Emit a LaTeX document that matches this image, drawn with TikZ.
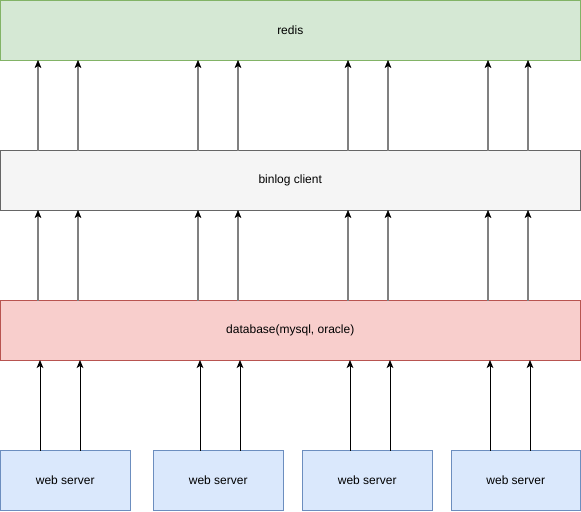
\documentclass[tikz,border=0pt]{standalone}
\usepackage{fontspec}
\setmainfont{Liberation Sans}
\usetikzlibrary{arrows.meta}
\definecolor{rfill}{HTML}{D5E8D4}\definecolor{rdraw}{HTML}{82B366}
\definecolor{bfill}{HTML}{F5F5F5}\definecolor{bdraw}{HTML}{666666}
\definecolor{dfill}{HTML}{F8CECC}\definecolor{ddraw}{HTML}{B85450}
\definecolor{wfill}{HTML}{DAE8FC}\definecolor{wdraw}{HTML}{6C8EBF}
\definecolor{agray}{HTML}{808080}
\begin{document}
\begin{tikzpicture}[x=0.75pt,y=-0.75pt,
  box/.style={rectangle,outer sep=0pt,inner sep=0pt,line width=0.75pt,
    font=\fontsize{9}{11}\selectfont,text=black},
  wide/.style={box,minimum width=579.5*0.75pt,minimum height=59.5*0.75pt},
  web/.style={box,minimum width=129.5*0.75pt,minimum height=59.5*0.75pt,fill=wfill,draw=wdraw},
  uparr/.style={draw=agray,line width=1.5pt,-{Stealth[length=6pt,width=5pt,inset=1.5pt,color=black,line width=0.4pt]}},
  lowarr/.style={draw=black,line width=0.75pt,-{Stealth[length=6pt,width=5pt,inset=1.5pt]}}]
\useasboundingbox (0,0) rectangle (581,511);
\node[wide,fill=rfill,draw=rdraw] (redis) at (290.25,30.25) {redis};
\node[wide,fill=bfill,draw=bdraw] (binlog) at (290.25,180.25) {binlog client};
\node[wide,fill=dfill,draw=ddraw] (db) at (290.25,330.25) {database(mysql, oracle)};
\node[web] (w1) at (65.25,480.25) {web server};
\node[web] (w2) at (218.25,480.25) {web server};
\node[web] (w3) at (367.25,480.25) {web server};
\node[web] (w4) at (515.75,480.25) {web server};
\foreach \x in {38,78,198,238,348,388,488,528}{
  \draw[uparr] (binlog.north -| \x,0) -- (redis.south -| \x,0);
  \draw[uparr] (db.north -| \x,0) -- (binlog.south -| \x,0);
}
\foreach \a/\b/\w in {40/80/w1,200/240/w2,350/390/w3,490/530/w4}{
  \draw[lowarr] (\w.north -| \a,0) -- (db.south -| \a,0);
  \draw[lowarr] (\w.north -| \b,0) -- (db.south -| \b,0);
}
\end{tikzpicture}
\end{document}
